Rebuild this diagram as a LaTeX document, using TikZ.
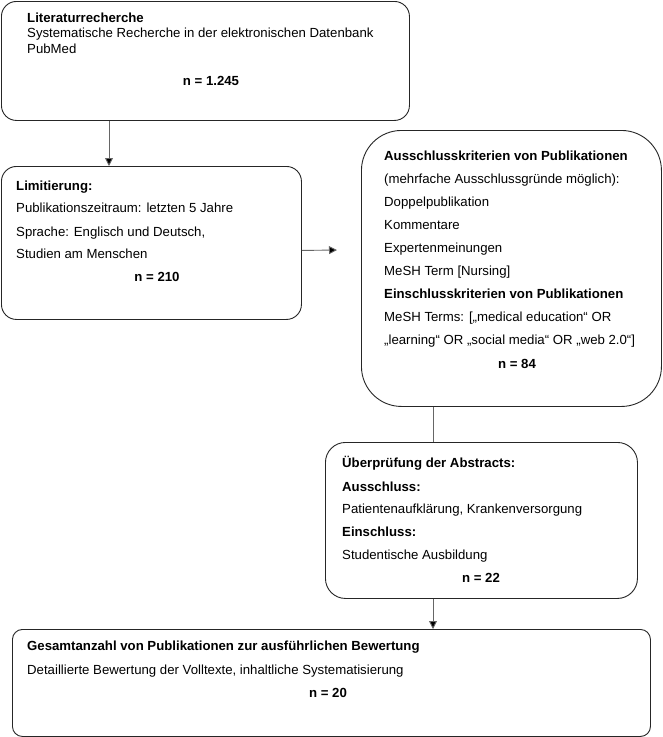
\documentclass[tikz,border=0pt]{standalone}
\usepackage{fontspec}
\setmainfont{Liberation Sans}
\usetikzlibrary{calc,arrows.meta}
\begin{document}
\begin{tikzpicture}[x=1pt,y=-1pt,
  box/.style={draw=black!85,line width=0.9pt,inner sep=0pt,anchor=north west},
  txt/.style={anchor=base west,inner sep=0pt,font=\fontsize{13.2}{15}\selectfont},
  btxt/.style={txt,font=\fontsize{13.2}{15}\selectfont\bfseries},
  ctr/.style={anchor=base,inner sep=0pt,font=\fontsize{13.2}{15}\selectfont\bfseries},
  conn/.style={draw=black!60,line width=0.9pt},
  arr/.style={conn,-{Triangle[length=8pt,width=8pt,fill=black]}}]
\useasboundingbox (0,0) rectangle (662,737);
\fill[white] (0,0) rectangle (662,737);
% boxes
\node[box,rounded corners=15pt,minimum width=408pt,minimum height=119pt] (b1) at (1,1) {};
\node[box,rounded corners=15pt,minimum width=300pt,minimum height=153pt] (b2) at (1,166) {};
\node[box,rounded corners=40pt,minimum width=300pt,minimum height=276pt] (b3) at (361,130) {};
\node[box,rounded corners=20pt,minimum width=312pt,minimum height=156pt] (b4) at (325,442) {};
\node[box,rounded corners=10pt,minimum width=638pt,minimum height=107pt] (b5) at (12,629) {};
% box 1 text
\node[btxt] (t11) at (27,22) {Literaturrecherche};
\node[txt] (t12) at (27,37.5) {Systematische Recherche in der elektronischen Datenbank};
\node[txt] (t13) at (27,53) {PubMed};
\node[ctr] (n1) at (211,85) {n = 1.245};
% box 2 text
\node[btxt] (t21) at (16,190) {Limitierung:};
\node[txt] (t22) at (16,212) {Publikationszeitraum: letzten 5 Jahre};
\node[txt] (t23) at (16,236) {Sprache: Englisch und Deutsch,};
\node[txt] (t24) at (16,258) {Studien am Menschen};
\node[ctr] (n2) at (157,281) {n = 210};
% box 3 text
\node[btxt] (t31) at (384,160) {Ausschlusskriterien von Publikationen};
\node[txt] (t32) at (384,183) {(mehrfache Ausschlussgründe möglich):};
\node[txt] (t33) at (384,206) {Doppelpublikation};
\node[txt] (t34) at (384,229) {Kommentare};
\node[txt] (t35) at (384,252) {Expertenmeinungen};
\node[txt] (t36) at (384,275) {MeSH Term [Nursing]};
\node[btxt] (t37) at (384,298) {Einschlusskriterien von Publikationen};
\node[txt] (t38) at (384,321) {MeSH Terms: [„medical education“ OR};
\node[txt] (t39) at (384,344) {„learning“ OR „social media“ OR „web 2.0“]};
\node[ctr] (n3) at (517,368) {n = 84};
% box 4 text
\node[btxt] (t41) at (342,467) {Überprüfung der Abstracts:};
\node[btxt] (t42) at (342,491) {Ausschluss:};
\node[txt] (t43) at (342,513) {Patientenaufklärung, Krankenversorgung};
\node[btxt] (t44) at (342,536) {Einschluss:};
\node[txt] (t45) at (342,559) {Studentische Ausbildung};
\node[ctr] (n4) at (481,582) {n = 22};
% box 5 text
\node[btxt] (t51) at (27,650) {Gesamtanzahl von Publikationen zur ausführlichen Bewertung};
\node[txt] (t52) at (27,674) {Detaillierte Bewertung der Volltexte, inhaltliche Systematisierung};
\node[ctr] (n5) at (328,697) {n = 20};
% connectors
\coordinate (e2) at (337,250);
\draw[arr] ($(b1.south west)+(108,0)$) -- ($(b2.north west)+(108,0)$);
\draw[arr] ($(b2.east)+(0,7.5)$) -- (e2);
\draw[conn] ($(b3.south west)+(72,0)$) -- ($(b4.north west)+(108,0)$);
\draw[arr] ($(b4.south west)+(108,0)$) -- ($(b5.north west)+(421,0)$);
\end{tikzpicture}
\end{document}
